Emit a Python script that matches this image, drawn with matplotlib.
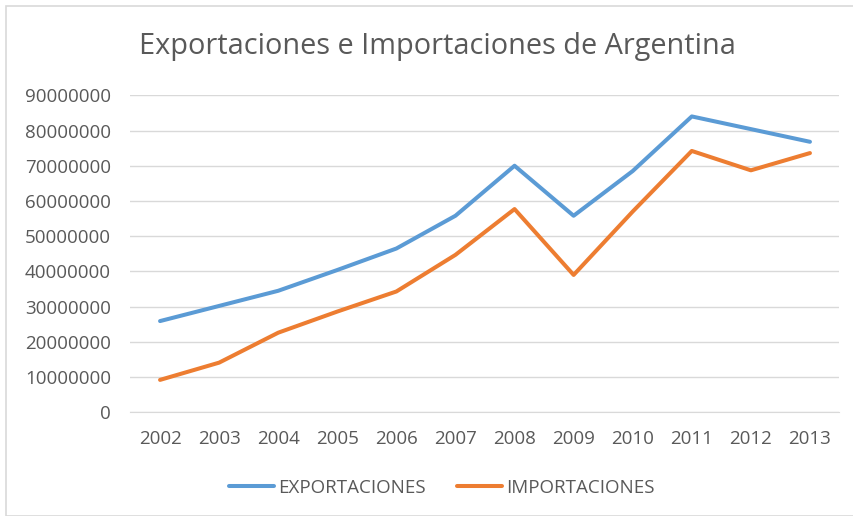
import matplotlib
matplotlib.use("Agg")
import matplotlib.pyplot as plt
from matplotlib.patches import Rectangle

years = [2002, 2003, 2004, 2005, 2006, 2007, 2008, 2009, 2010, 2011, 2012, 2013]
exportaciones = [25900000, 30200000, 34500000, 40400000, 46500000, 55800000,
                 70000000, 55800000, 68500000, 84000000, 80400000, 76800000]
importaciones = [9200000, 14100000, 22600000, 28600000, 34300000, 44700000,
                 57700000, 39000000, 57000000, 74200000, 68700000, 73600000]
y_ticks = list(range(0, 90000001, 10000000))

text_color = '#595959'
grid_color = '#D9D9D9'

plt.rcParams['font.family'] = ['Open Sans', 'DejaVu Sans']

fig = plt.figure(figsize=(8.54, 5.16), dpi=100)
ax = fig.add_axes([130.5 / 854, 1 - 412.3 / 516, (839.5 - 130.5) / 854, (412.3 - 95.3) / 516])

x = list(range(len(years)))
ax.plot(x, exportaciones, color='#5B9BD5', linewidth=2.9, label='EXPORTACIONES',
        solid_capstyle='round', solid_joinstyle='round')
ax.plot(x, importaciones, color='#ED7D31', linewidth=2.9, label='IMPORTACIONES',
        solid_capstyle='round', solid_joinstyle='round')

ax.set_xlim(-0.5, len(years) - 0.5)
ax.set_ylim(0, 90000000)
ax.set_yticks(y_ticks)
ax.set_yticklabels([str(v) for v in y_ticks])
ax.set_xticks(x)
ax.set_xticklabels([str(y) for y in years])
ax.yaxis.grid(True, color=grid_color, linewidth=1)
ax.set_axisbelow(True)
for side in ['left', 'right', 'top']:
    ax.spines[side].set_visible(False)
ax.spines['bottom'].set_color(grid_color)
ax.tick_params(axis='both', length=0, labelsize=13.5, colors=text_color)
ax.tick_params(axis='y', pad=14)
ax.tick_params(axis='x', pad=13)

fig.text(437 / 854, 1 - 47 / 516,
         'Exportaciones e Importaciones de Argentina',
         ha='center', va='center', fontsize=20.8, color=text_color)

ax.legend(loc='center', bbox_to_anchor=(442 / 854, 1 - 488 / 516),
          bbox_transform=fig.transFigure, ncol=2, frameon=False,
          fontsize=13.5, labelcolor=text_color, handlelength=2.4,
          handletextpad=0.2, columnspacing=1.7)

fig.patches.append(Rectangle((6 / 854, 0), 1, 1 - 6 / 516, transform=fig.transFigure,
                             fill=False, edgecolor='#D9D9D9', linewidth=1.2))

fig.savefig('out.png', dpi=100, facecolor='white')
